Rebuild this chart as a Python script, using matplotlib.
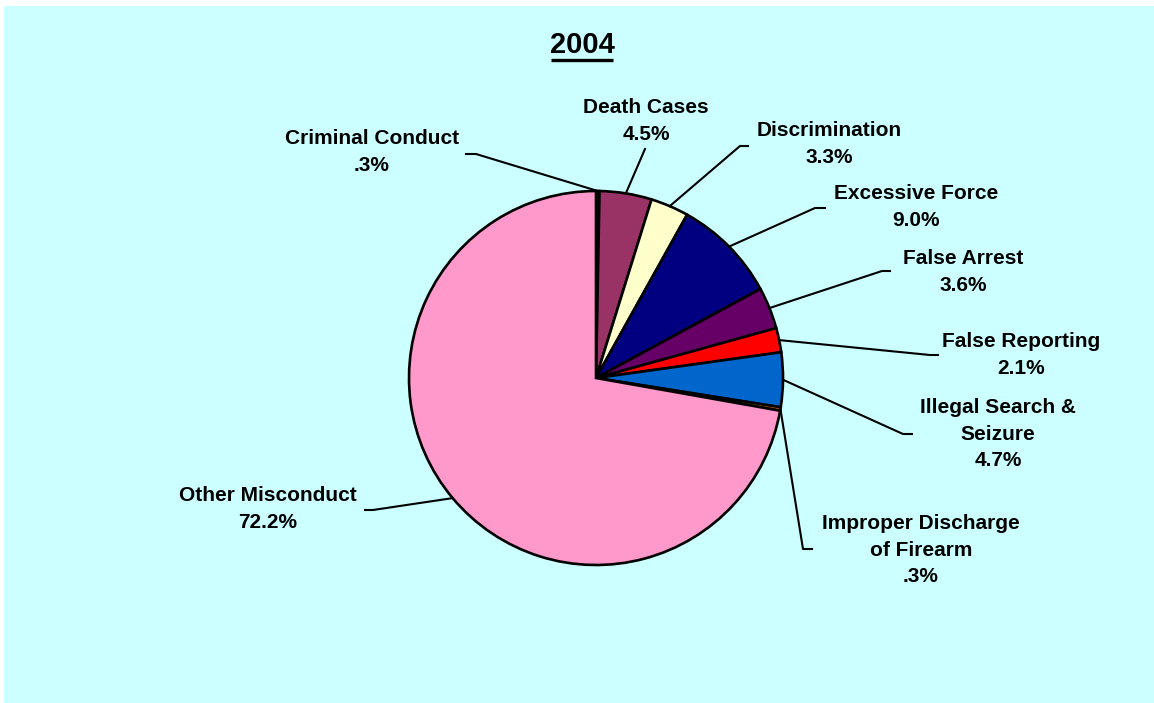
import numpy as np
import matplotlib.pyplot as plt
from matplotlib.patches import Rectangle

plt.rcParams['font.family'] = ['Liberation Sans', 'DejaVu Sans']

categories = [
    "Criminal Conduct",
    "Death Cases",
    "Discrimination",
    "Excessive Force",
    "False Arrest",
    "False Reporting",
    "Illegal Search &\nSeizure",
    "Improper Discharge\nof Firearm",
    "Other Misconduct",
]
shares = [0.3, 4.5, 3.3, 9.0, 3.6, 2.1, 4.7, 0.3, 72.2]
pct_labels = [".3%", "4.5%", "3.3%", "9.0%", "3.6%", "2.1%", "4.7%", ".3%", "72.2%"]
colors = ["#1a1a33", "#993366", "#FFFFCC", "#000080", "#660066",
          "#FF0000", "#0066CC", "#CC6600", "#FF99CC"]

W, H = 1154, 703
fig = plt.figure(figsize=(W / 100, H / 100), dpi=100, facecolor="white")
ax = fig.add_axes([0, 0, 1, 1])

# light cyan chart area
ax.add_patch(Rectangle((4, -5), W + 5, H - 1, facecolor="#CCFFFF",
                       edgecolor="none", zorder=0))

cx, cy, r = 596, H - 378, 187
wedges, _ = ax.pie(shares, colors=colors, startangle=90, counterclock=False,
                   center=(cx, cy), radius=r, frame=True,
                   wedgeprops=dict(edgecolor="black", linewidth=1.9))
ax.set_xlim(0, W)
ax.set_ylim(0, H)
ax.set_aspect("equal")
ax.axis("off")

# leader elbows (end of diagonal, end of short horizontal tick) and text centres
elbows = [
    ((476, 154), (466, 154)),
    ((645, 149), (645, 149)),
    ((740, 146), (748, 146)),
    ((815, 208), (825, 208)),
    ((882, 271), (890, 271)),
    ((930, 355), (938, 355)),
    ((903, 434), (912, 434)),
    ((803, 549), (812, 549)),
    ((373, 510), (365, 510)),
]
text_pos = [(372, 152), (646, 121), (829, 144), (916, 207), (963, 272),
            (1021, 355), (998, 434), (921, 550), (268, 509)]

for w, name, pct, (e1, e2), (tx, ty) in zip(wedges, categories, pct_labels,
                                           elbows, text_pos):
    mid = np.deg2rad((w.theta1 + w.theta2) / 2)
    x0, y0 = cx + r * np.cos(mid), cy + r * np.sin(mid)
    ax.plot([x0, e1[0], e2[0]], [y0, H - e1[1], H - e2[1]],
            color="black", linewidth=1.5, zorder=1)
    ax.text(tx, H - ty, name + "\n" + pct, ha="center", va="center",
            fontsize=15, fontweight="bold", linespacing=1.5)

title = ax.text(582, H - 45, "2004", ha="center", va="center",
                fontsize=21, fontweight="bold")
fig.canvas.draw()
bb = title.get_window_extent().transformed(ax.transData.inverted())
ax.plot([bb.x0 + 1, bb.x1 - 1], [bb.y0 - 1, bb.y0 - 1], color="black",
        linewidth=2.4, solid_capstyle="butt")

fig.savefig("out.png", dpi=100, facecolor="white")
